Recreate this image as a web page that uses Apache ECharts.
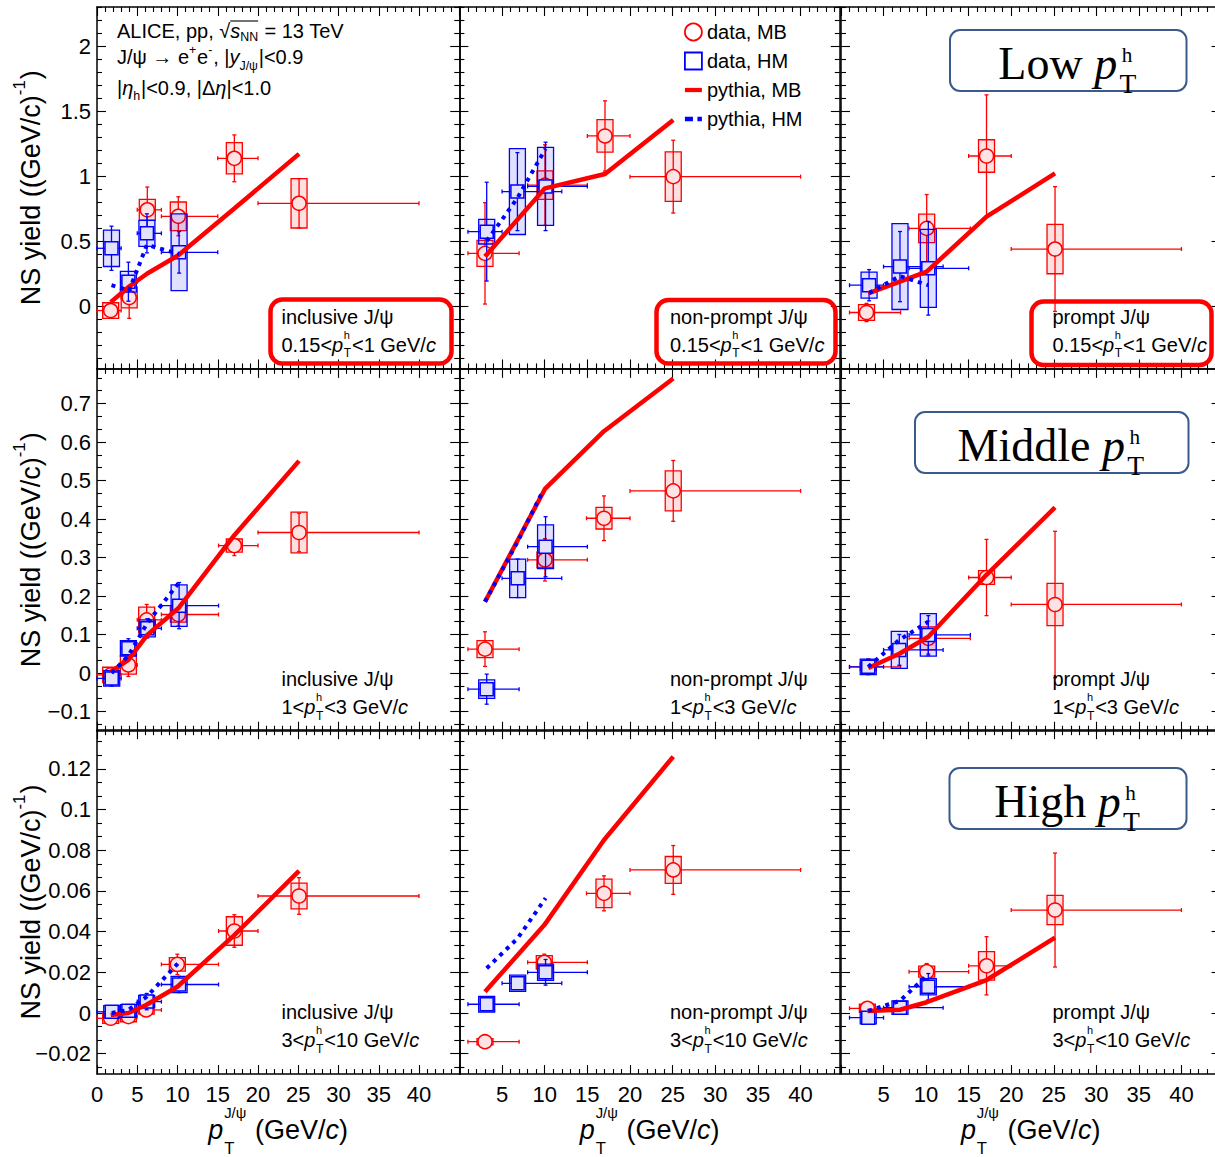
<!DOCTYPE html>
<html><head><meta charset="utf-8">
<script src="https://cdn.jsdelivr.net/npm/echarts@6/dist/echarts.min.js"></script>
<style>html,body{margin:0;padding:0;background:#fff}#chart{width:1215px;height:1157px}</style>
</head><body><div id="chart"></div>
<script>
// ================= DATA =================
// data points: [pT, yield, binLow, binHigh, statErr, sysErr]
// --- inclusive J/psi, 0.15<pTh<1 ---
const incLowMB = [[1.7,-0.035,0,3,0.04,0.06],[4.0,0.065,3,5,0.16,0.08],[6.25,0.74,5,8,0.175,0.08],[10.1,0.69,8,15,0.15,0.11],[17.06,1.136,15,20,0.18,0.12],[25.1,0.79,20,40,0.19,0.19]];
const incLowHM = [[1.8,0.444,0,3,0.17,0.14],[3.9,0.187,3,5,0.15,0.08],[6.2,0.559,5,8,0.15,0.1],[10.2,0.413,8,15,0.16,0.295]];
const incLowPyMB = [[1.7,0.03],[4.0,0.15],[6.25,0.25],[10.1,0.39],[17.06,0.75],[25.1,1.17]];
const incLowPyHM = [[1.8,0.16],[4.0,0.12],[6.2,0.47],[10.2,0.40]];
// --- non-prompt J/psi, 0.15<pTh<1 ---
const npLowMB = [[3.0,0.405,1,7,0.39,0.1],[10.03,0.93,8,15,0.31,0.11],[17.07,1.308,15,20,0.27,0.125],[25.07,0.995,20,40,0.28,0.19]];
const npLowHM = [[3.2,0.572,1,5,0.38,0.095],[6.8,0.88,5,12,0.3,0.33],[10.1,0.92,8,15,0.34,0.3]];
const npLowPyMB = [[3.0,0.38],[10.03,0.905],[17.07,1.015],[25.07,1.43]];
const npLowPyHM = [[3.2,0.5],[6.8,0.83],[10.1,1.21]];
// --- prompt J/psi, 0.15<pTh<1 ---
const prLowMB = [[3.0,-0.05,1,7,0.07,0.06],[10.07,0.597,8,15.2,0.26,0.11],[17.1,1.154,15,20,0.47,0.125],[25.15,0.438,20,40,0.48,0.19]];
const prLowHM = [[3.3,0.16,1,5,0.12,0.1],[6.93,0.303,5,12,0.27,0.33],[10.26,0.29,8,15,0.36,0.3]];
const prLowPyMB = [[3.2,0.097],[10.07,0.264],[17.1,0.687],[25.15,1.02]];
const prLowPyHM = [[3.3,0.1],[6.93,0.23],[10.26,0.16]];
// --- inclusive J/psi, 1<pTh<3 ---
const incMidMB = [[1.7,-0.005,0,3,0.012,0.02],[3.9,0.021,3,5,0.03,0.024],[6.17,0.138,5,8,0.04,0.033],[10.1,0.152,8,15.1,0.03,0.02],[17.06,0.331,15.1,20,0.026,0.017],[25.1,0.365,20,40,0.05,0.053]];
const incMidHM = [[1.83,-0.014,0,3,0.02,0.02],[3.9,0.064,3,5,0.025,0.02],[6.25,0.116,5,8,0.025,0.022],[10.2,0.175,8,15.1,0.06,0.054]];
const incMidPyMB = [[1.7,0.003],[3.9,0.034],[6.25,0.099],[10.1,0.168],[17.06,0.358],[25.1,0.551]];
const incMidPyHM = [[1.83,0.0],[3.9,0.045],[6.25,0.13],[10.2,0.235]];
// --- non-prompt J/psi, 1<pTh<3 ---
const npMidMB = [[3.0,0.062,1,7,0.045,0.022],[10.03,0.294,8,15,0.055,0.02],[16.95,0.402,14.9,20,0.058,0.028],[25.07,0.473,20,40,0.079,0.052]];
const npMidHM = [[3.2,-0.042,1,7,0.039,0.024],[6.83,0.246,5,12,0.05,0.05],[10.1,0.328,8,15,0.078,0.057]];
const npMidPyMB = [[3.0,0.185],[10.03,0.478],[16.95,0.628],[25.07,0.765]];
const npMidPyHM = [[3.0,0.185],[6.8,0.34],[9.84,0.475]];
// --- prompt J/psi, 1<pTh<3 ---
const prMidMB = [[3.2,0.016,1,7,0.02,0.01],[10.26,0.09,8,15.2,0.045,0.03],[17.1,0.248,15,20,0.099,0.018],[25.15,0.178,20,40,0.19,0.055]];
const prMidHM = [[3.2,0.016,1,5,0.02,0.02],[6.85,0.06,5,12,0.04,0.048],[10.26,0.099,8,15.2,0.05,0.055]];
const prMidPyMB = [[3.2,0.013],[6.85,0.05],[10.26,0.094],[17.1,0.255],[25.15,0.43]];
const prMidPyHM = [[3.2,0.016],[6.85,0.086],[10.26,0.133]];
// --- inclusive J/psi, 3<pTh<10 ---
const incHighMB = [[1.7,-0.0026,0,3,0.002,0.0025],[3.9,-0.0018,3,5,0.002,0.0025],[6.1,0.0015,5,8,0.003,0.002],[9.98,0.0239,8,15.1,0.005,0.0033],[17.06,0.0403,15.1,20,0.008,0.007],[25.1,0.0575,20,40,0.009,0.0063]];
const incHighHM = [[1.83,0.0006,0,3,0.002,0.003],[3.9,0.0011,3,5,0.002,0.003],[6.17,0.0056,5,8,0.004,0.003],[10.2,0.014,8,15.1,0.004,0.004]];
const incHighPyMB = [[1.7,-0.001],[3.9,0.0],[6.1,0.0039],[9.98,0.0129],[17.06,0.0383],[25.1,0.0698]];
const incHighPyHM = [[1.83,0.0],[3.9,0.0015],[6.17,0.008],[10.2,0.025]];
// --- non-prompt J/psi, 3<pTh<10 ---
const npHighMB = [[3.0,-0.0141,1,7,0.0015,0.0015],[9.95,0.0249,8,15,0.004,0.0033],[16.95,0.0588,14.9,20,0.0086,0.007],[25.07,0.0703,20,40,0.012,0.0066]];
const npHighHM = [[3.2,0.0043,1,7,0.003,0.0038],[6.83,0.0146,5,12,0.003,0.004],[10.1,0.020,8,15,0.0063,0.004]];
const npHighPyMB = [[3.0,0.0105],[9.95,0.0432],[16.95,0.085],[25.07,0.126]];
const npHighPyHM = [[3.2,0.022],[6.83,0.0367],[10.1,0.0564]];
// --- prompt J/psi, 3<pTh<10 ---
const prHighMB = [[3.1,0.0023,1,7,0.003,0.002],[10.07,0.0203,8,15,0.004,0.0027],[17.1,0.0232,15,20,0.0143,0.007],[25.15,0.0506,20,40,0.028,0.0072]];
const prHighHM = [[3.2,-0.0023,1,5,0.002,0.003],[6.93,0.0026,5,12,0.003,0.0033],[10.26,0.0129,8,15,0.0065,0.004]];
const prHighPyMB = [[3.1,0.001],[6.93,0.0016],[10.07,0.0053],[17.1,0.0162],[25.15,0.037]];
const prHighPyHM = [[3.2,0.001],[6.93,0.006],[10.26,0.019]];

// tick labels
const xTickLabelsCol1 = [0,5,10,15,20,25,30,35,40];
const xTickLabelsCol23 = [5,10,15,20,25,30,35,40];
const yTickLabelsRow1 = [0,0.5,1,1.5,2];
const yTickLabelsRow2 = [-0.1,0,0.1,0.2,0.3,0.4,0.5,0.6,0.7];
const yTickLabelsRow3 = [-0.02,0,0.02,0.04,0.06,0.08,0.1,0.12];

const speciesNames = ['inclusive J/ψ','non-prompt J/ψ','prompt J/ψ'];
const rangeNames = [['0.15<','<1 GeV/'],['1<','<3 GeV/'],['3<','<10 GeV/']];
const legendNames = ['data, MB','data, HM','pythia, MB','pythia, HM'];

const panels = [
  [incLowMB,incLowHM,incLowPyMB,incLowPyHM],[npLowMB,npLowHM,npLowPyMB,npLowPyHM],[prLowMB,prLowHM,prLowPyMB,prLowPyHM],
  [incMidMB,incMidHM,incMidPyMB,incMidPyHM],[npMidMB,npMidHM,npMidPyMB,npMidPyHM],[prMidMB,prMidHM,prMidPyMB,prMidPyHM],
  [incHighMB,incHighHM,incHighPyMB,incHighPyHM],[npHighMB,npHighHM,npHighPyMB,npHighPyHM],[prHighMB,prHighHM,prHighPyMB,prHighPyHM]
];

// ================= LAYOUT =================
const SANS = "'Liberation Sans', Arial, Helvetica, sans-serif";
const SERIF = "'Liberation Serif', 'Times New Roman', serif";
const colLeft = [97, 459.4, 841], xMax = [45, 44.6, 44.6], pxPerX = [8.05, 8.53, 8.51];
const rowMin = [-0.48, -0.15, -0.03], rowMax = [2.3, 0.79, 0.139], pxPerY = [130, 385, 2035], zeroPx = [306, 673, 1013];
const yLabelsByRow = [yTickLabelsRow1, yTickLabelsRow2, yTickLabelsRow3];
const yMajorStep = [0.5, 0.1, 0.02], yMinorDiv = [5, 3, 3];

function ticksBetween(min, max, step, div, wantMinor) {
  const out = [];
  const sub = step / div;
  const k0 = Math.ceil(min / sub - 1e-9), k1 = Math.floor(max / sub + 1e-9);
  for (let k = k0; k <= k1; k++) {
    const isMajor = (k % div) === 0;
    if (isMajor !== wantMinor) out.push(+(k * sub).toFixed(6));
  }
  return out;
}

const fmt = v => { const a = +Math.abs(v).toFixed(4); return (v < -1e-9 ? '\u2212' : '') + String(a); };

const grids = [], xAxes = [], yAxes = [], series = [];
const mctx = document.createElement('canvas').getContext('2d');
function fnt(size, fam, it) { return (it ? 'italic ' : '') + size.toFixed(1) + 'px ' + fam; }
function tw(t, f) { mctx.font = f; return mctx.measureText(t).width; }

function makeRender(isMB) {
  const col = isMB ? '#ff0000' : '#0000ff';
  const fill = isMB ? 'rgba(255,0,0,0.12)' : 'rgba(0,0,255,0.12)';
  const mfill = isMB ? '#fde3e3' : '#e2e2fb';
  return function (params, api) {
    const x = api.value(0), y = api.value(1), xl = api.value(2), xh = api.value(3), es = api.value(4), ey = api.value(5);
    const c = api.coord([x, y]), l = api.coord([xl, y]), h = api.coord([xh, y]);
    const t = api.coord([x, y + es]), b = api.coord([x, y - es]);
    const st = api.coord([x, y + ey]), sb = api.coord([x, y - ey]);
    const ls = { stroke: col, lineWidth: 1.3 };
    const ch = [
      { type: 'rect', shape: { x: c[0] - 8, y: st[1], width: 16, height: sb[1] - st[1] }, style: { fill: fill, stroke: col, lineWidth: 1.3 } },
      { type: 'line', shape: { x1: l[0], y1: c[1], x2: h[0], y2: c[1] }, style: ls },
      { type: 'line', shape: { x1: c[0], y1: t[1], x2: c[0], y2: b[1] }, style: ls },
      { type: 'line', shape: { x1: l[0], y1: c[1] - 2, x2: l[0], y2: c[1] + 2 }, style: ls },
      { type: 'line', shape: { x1: h[0], y1: c[1] - 2, x2: h[0], y2: c[1] + 2 }, style: ls },
      { type: 'line', shape: { x1: c[0] - 2, y1: t[1], x2: c[0] + 2, y2: t[1] }, style: ls },
      { type: 'line', shape: { x1: c[0] - 2, y1: b[1], x2: c[0] + 2, y2: b[1] }, style: ls }
    ];
    if (isMB) ch.push({ type: 'circle', shape: { cx: c[0], cy: c[1], r: 7 }, style: { fill: mfill, stroke: col, lineWidth: 1.5 } });
    else ch.push({ type: 'rect', shape: { x: c[0] - 6.5, y: c[1] - 6.5, width: 13, height: 13 }, style: { fill: mfill, stroke: col, lineWidth: 1.5 } });
    return { type: 'group', children: ch };
  };
}

for (let r = 0; r < 3; r++) {
  for (let c = 0; c < 3; c++) {
    const g = r * 3 + c;
    const top = zeroPx[r] - rowMax[r] * pxPerY[r];
    const height = (rowMax[r] - rowMin[r]) * pxPerY[r];
    grids.push({ left: colLeft[c], top: top, width: xMax[c] * pxPerX[c], height: height, containLabel: false, outerBoundsMode: 'none', show: false });
    const xMaj = ticksBetween(0, xMax[c] - 0.01, 5, 5, false), xMin = ticksBetween(0, xMax[c], 5, 5, true);
    const yMaj = ticksBetween(rowMin[r], rowMax[r], yMajorStep[r], yMinorDiv[r], false);
    const yMin = ticksBetween(rowMin[r], rowMax[r], yMajorStep[r], yMinorDiv[r], true);
    ['bottom', 'top'].forEach(pos => {
      [true, false].forEach(major => {
        xAxes.push({
          gridIndex: g, type: 'value', min: 0, max: xMax[c], position: pos,
          axisLine: { show: major, onZero: false, lineStyle: { color: '#000', width: 1.5 } },
          axisTick: { show: true, inside: true, length: major ? 9 : 5, customValues: major ? xMaj : xMin, lineStyle: { color: '#000', width: 1.1 } },
          axisLabel: { show: major && pos === 'bottom' && r === 2, customValues: c === 0 ? xTickLabelsCol1 : xTickLabelsCol23, formatter: fmt, color: '#000', fontFamily: SANS, fontSize: 22, margin: 9 },
          splitLine: { show: false }, minorTick: { show: false }
        });
      });
    });
    ['left', 'right'].forEach(pos => {
      [true, false].forEach(major => {
        yAxes.push({
          gridIndex: g, type: 'value', min: rowMin[r], max: rowMax[r], position: pos,
          axisLine: { show: major, onZero: false, lineStyle: { color: '#000', width: 1.5 } },
          axisTick: { show: true, inside: true, length: major ? 9 : 5, customValues: major ? yMaj : yMin, lineStyle: { color: '#000', width: 1.1 } },
          axisLabel: { show: major && pos === 'left' && c === 0, customValues: yLabelsByRow[r], formatter: fmt, color: '#000', fontFamily: SANS, fontSize: 22, margin: 6 },
          splitLine: { show: false }, minorTick: { show: false }
        });
      });
    });
    const xi = g * 4, yi = g * 4;
    const p = panels[g];
    series.push({ type: 'custom', name: legendNames[0], xAxisIndex: xi, yAxisIndex: yi, data: p[0], renderItem: makeRender(true), itemStyle: { color: '#ff0000' }, z: 2, silent: true, animation: false });
    series.push({ type: 'custom', name: legendNames[1], xAxisIndex: xi, yAxisIndex: yi, data: p[1], renderItem: makeRender(false), itemStyle: { color: '#0000ff' }, z: 3, silent: true, animation: false });
    series.push({ type: 'line', name: legendNames[2], xAxisIndex: xi, yAxisIndex: yi, data: p[2], symbol: 'none', lineStyle: { color: '#ff0000', width: 4.5 }, itemStyle: { color: '#ff0000' }, z: 4, silent: true, animation: false });
    series.push({ type: 'line', name: legendNames[3], xAxisIndex: xi, yAxisIndex: yi, data: p[3], symbol: 'none', lineStyle: { color: '#0000ff', width: 4, type: [4, 5] }, itemStyle: { color: '#0000ff' }, z: 5, silent: true, animation: false });
  }
}

// ================= TEXT HELPERS =================
function T(x, y, t, f) {
  return { type: 'text', x: x, y: y, z: 120, silent: true, style: { text: t, font: f, fill: '#000', align: 'left', verticalAlign: 'middle', textAlign: 'left', textVerticalAlign: 'middle' } };
}
function pick(a, b) { return a != null ? a : b; }
function mathGroup(x, y, tokens, o) {
  const size = o.size, fam = o.fam;
  let cx = 0; const kids = []; let olA = null, olB = null;
  tokens.forEach(tk => {
    if (typeof tk === 'string') tk = { t: tk };
    if (tk.t !== undefined) {
      const f = fnt(size, fam, tk.i); const w = tw(tk.t, f);
      kids.push(T(cx, 0, tk.t, f));
      if (tk.ol) { if (olA === null) olA = cx; olB = cx + w; }
      cx += w + (tk.gap || 0) * size;
    } else {
      let w = 0;
      if (tk.sup !== undefined) { const f = fnt(size * pick(tk.supS, 0.62), fam, tk.supI); kids.push(T(cx + (tk.supDx || 0) * size, size * pick(tk.supDy, -0.45), tk.sup, f)); w = Math.max(w, tw(tk.sup, f) + (tk.supDx || 0) * size); }
      if (tk.sub !== undefined) { const f = fnt(size * pick(tk.subS, 0.62), fam, tk.subI); kids.push(T(cx, size * pick(tk.subDy, 0.35), tk.sub, f)); w = Math.max(w, tw(tk.sub, f)); }
      if (tk.ol) { if (olA === null) olA = cx; olB = cx + w; }
      cx += w + size * 0.04;
    }
  });
  if (olA !== null) kids.push({ type: 'line', z: 120, shape: { x1: olA, y1: -size * 0.5, x2: olB, y2: -size * 0.5 }, style: { stroke: '#000', lineWidth: 1.1 } });
  const shift = o.align === 'center' ? -cx / 2 : 0;
  kids.forEach(k => { if (k.type === 'text') k.x += shift; else { k.shape.x1 += shift; k.shape.x2 += shift; } });
  return { type: 'group', x: x, y: y, rotation: o.rot || 0, z: 120, children: kids };
}

const graphics = [];
// ALICE header
const hdr = { size: 20, fam: SANS };
graphics.push(mathGroup(117, 31, ['ALICE, pp, \u221A', { t: 's', i: true, ol: true }, { sub: 'NN', subDy: 0.3, ol: true }, ' = 13 TeV'], hdr));
graphics.push(mathGroup(117, 56.5, ['J/\u03C8 \u2192 e', { sup: '+', supDy: -0.35 }, 'e', { sup: '-', supDy: -0.35 }, ', |', { t: 'y', i: true }, { sub: 'J/\u03C8', subDy: 0.45 }, '|<0.9'], hdr));
graphics.push(mathGroup(117, 87.5, ['|', { t: '\u03B7', i: true }, { sub: 'h', subDy: 0.4 }, '|<0.9, |\u0394', { t: '\u03B7', i: true }, '|<1.0'], hdr));

// panel labels
const labX = [281.5, 670, 1052.5];
const labY2 = [344.5, 707, 1040];
for (let r = 0; r < 3; r++) for (let c = 0; c < 3; c++) {
  graphics.push(mathGroup(labX[c], labY2[r] - 28, [speciesNames[c]], { size: 20, fam: SANS }));
  graphics.push(mathGroup(labX[c], labY2[r], [rangeNames[r][0], { t: 'p', i: true, gap: 0.03 }, { sup: 'h', sub: 'T', supDy: -0.5, subDy: 0.44, supS: 0.55, subS: 0.6 }, rangeNames[r][1], { t: 'c', i: true }], { size: 20, fam: SANS }));
}
// red highlight boxes (row 1)
[[270.5, 299.5, 181, 64], [656.5, 300, 179, 63.5], [1031.5, 301.5, 180, 63.5]].forEach(b => {
  graphics.push({ type: 'rect', z: 110, silent: true, shape: { x: b[0], y: b[1], width: b[2], height: b[3], r: 12 }, style: { fill: 'none', stroke: '#ff0000', lineWidth: 4.5 } });
});
// blue pT^h category boxes
const catBoxes = [[950, 30, 236.5, 61, 'Low '], [915, 412, 273.5, 61, 'Middle '], [949.5, 768, 237, 61, 'High ']];
catBoxes.forEach(b => {
  graphics.push({ type: 'rect', z: 105, silent: true, shape: { x: b[0], y: b[1], width: b[2], height: b[3], r: 10 }, style: { fill: '#ffffff', stroke: '#3a5a8c', lineWidth: 2 } });
  graphics.push(mathGroup(b[0] + b[2] / 2, b[1] + 33, [b[4], { t: 'p', i: true, gap: 0.05 }, { sup: 'h', sub: 'T', supDy: -0.165, subDy: 0.45, supS: 0.46, subS: 0.6, supDx: 0.05 }], { size: 46, fam: SERIF, align: 'center' }));
});

// axis titles
for (let r = 0; r < 3; r++) {
  const cy = zeroPx[r] - (rowMax[r] + rowMin[r]) / 2 * pxPerY[r];
  graphics.push(mathGroup(31, cy, ['NS yield ((GeV/c)', { sup: '-1', supDy: -0.42, supS: 0.62 }, ')'], { size: 27, fam: SANS, align: 'center', rot: Math.PI / 2 }));
}
for (let c = 0; c < 3; c++) {
  const cx = colLeft[c] + xMax[c] * pxPerX[c] / 2;
  graphics.push(mathGroup(cx, 1130, [{ t: 'p', i: true, gap: 0.03 }, { sup: 'J/\u03C8', sub: 'T', supDy: -0.62, subDy: 0.68, supS: 0.55, subS: 0.62 }, ' (GeV/', { t: 'c', i: true }, ')'], { size: 27, fam: SANS, align: 'center' }));
}

const chart = echarts.init(document.getElementById('chart'), null, { renderer: 'svg', width: 1215, height: 1157 });
chart.setOption({
  backgroundColor: '#ffffff',
  animation: false,
  grid: grids, xAxis: xAxes, yAxis: yAxes, series: series,
  legend: {
    show: true, orient: 'vertical', left: 684, top: 22, padding: 0, itemWidth: 17, itemHeight: 17, itemGap: 9, selectedMode: false,
    textStyle: { fontFamily: SANS, fontSize: 20, color: '#000' },
    data: [
      { name: 'data, MB', icon: 'circle', itemStyle: { color: '#ffffff', borderColor: '#ff0000', borderWidth: 1.8 } },
      { name: 'data, HM', icon: 'rect', itemStyle: { color: '#ffffff', borderColor: '#0000ff', borderWidth: 1.8 } },
      { name: 'pythia, MB', icon: 'path://M0,0H20V5H0Z', itemStyle: { color: '#ff0000', borderWidth: 0 } },
      { name: 'pythia, HM', icon: 'path://M0,0H9V5H0Z M14,0H19V5H14Z', itemStyle: { color: '#0000ff', borderWidth: 0 } }
    ]
  },
  graphic: { elements: graphics }
});
</script>
</body></html>
